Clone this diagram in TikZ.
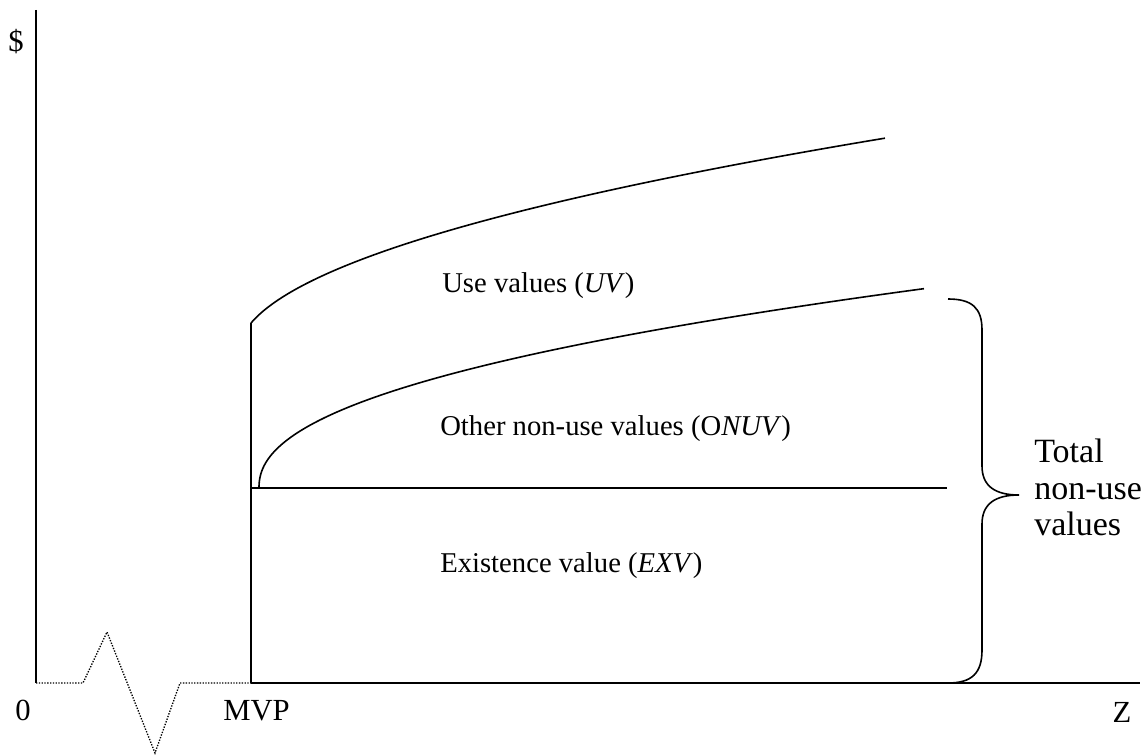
\documentclass[tikz,border=0pt]{standalone}
\usepackage{fontspec}
\setmainfont{Liberation Serif}
\begin{document}
\begin{tikzpicture}[x=0.75pt,y=-0.75pt,
  axisline/.style={line width=1.2pt},
  curveline/.style={line width=1.2pt},
  breakline/.style={line width=1pt, dash pattern=on 1pt off 1.1pt},
  lbl/.style={inner sep=0pt, font=\fontsize{21.5}{25}\selectfont},
  axlbl/.style={inner sep=0pt, font=\fontsize{23}{27}\selectfont},
  bracelbl/.style={inner sep=0pt, anchor=base west, font=\fontsize{25.5}{30}\selectfont},
  lblb/.style={lbl, anchor=base west}]
\useasboundingbox (0,0) rectangle (1148,755);
% coordinates
\coordinate (ytop) at (36,10);
\coordinate (orig) at (36,683);
\coordinate (b1) at (83,683);
\coordinate (b2) at (107,632);
\coordinate (b3) at (155,753);
\coordinate (b4) at (180,683);
\coordinate (mvpb) at (251,683);
\coordinate (mvpt) at (251,323);
\coordinate (zend) at (1140,683);
\coordinate (hl) at (251,488);
\coordinate (hr) at (947,488);
% axes
\draw[axisline] (ytop) -- (orig);
\draw[breakline] (orig) -- (b1) -- (b2) -- (b3) -- (b4) -- (mvpb);
\draw[axisline] (mvpb) -- (zend);
\draw[axisline] (mvpt) -- (mvpb);
\draw[axisline] (hl) -- (hr);
% curves
\draw[curveline] plot[variable=\t, domain=3.606:25.436, samples=120] ({238+\t*\t}, {353.6-8.47*\t});
\draw[curveline] plot[variable=\t, domain=0:25.788, samples=160] ({259+\t*\t}, {488-10.7*pow(\t,0.9)});
% brace
\draw[curveline] (948,299) .. controls (972,299) and (982,308) .. (982,330)
  -- (982,466) .. controls (982,486) and (995,495) .. (1019,495)
  .. controls (995,495) and (982,504) .. (982,524)
  -- (982,650) .. controls (982,673) and (972,683) .. (948,683);
% labels
\node[axlbl] (dollar) at (16,42) {\$};
\node[axlbl, anchor=base] (zero) at (23,720) {0};
\node[axlbl, anchor=base west] (mvp) at (223,720) {MVP};
\node[axlbl, anchor=base] (zlab) at (1122,722) {Z};
\node[lblb] (uv) at (442,293) {Use values (\textit{UV})};
\node[lblb] (onuv) at (440,435) {Other non-use values (O\textit{NUV})};
\node[lblb] (exv) at (440,572) {Existence value (\textit{EXV})};
\node[bracelbl] (tot1) at (1034,462) {Total};
\node[bracelbl] (tot2) at (1034,499) {non-use};
\node[bracelbl] (tot3) at (1034,535) {values};
\end{tikzpicture}
\end{document}
